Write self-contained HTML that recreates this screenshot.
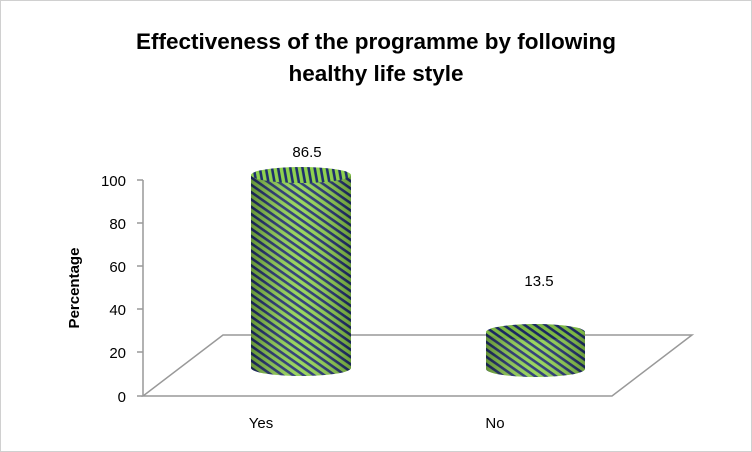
<!DOCTYPE html>
<html><head><style>body{margin:0;background:#fff}svg{display:block}</style></head><body>
<svg width="752" height="452" xmlns="http://www.w3.org/2000/svg" font-family="Liberation Sans, sans-serif">
<defs>
<pattern id="st" width="6" height="6" patternUnits="userSpaceOnUse" patternTransform="rotate(35)">
<rect width="6" height="6" fill="#8fd14f"/><rect width="6" height="2.6" fill="#1f2f6e"/>
</pattern>
<pattern id="st2" width="6" height="6" patternUnits="userSpaceOnUse" patternTransform="rotate(80)">
<rect width="6" height="6" fill="#8fd14f"/><rect width="6" height="2.6" fill="#1f2f6e"/>
</pattern>
<linearGradient id="sh" x1="0" x2="1" y1="0" y2="0">
<stop offset="0" stop-color="#000" stop-opacity="0.3"/>
<stop offset="0.5" stop-color="#fff" stop-opacity="0.1"/>
<stop offset="1" stop-color="#000" stop-opacity="0.25"/>
</linearGradient>
</defs>
<rect x="0.5" y="0.5" width="751" height="451" fill="#fff" stroke="#d0d0d0"/>
<text x="376" y="49" font-size="22.5" font-weight="bold" text-anchor="middle">Effectiveness of the programme by following</text>
<text x="376" y="81" font-size="22.5" font-weight="bold" text-anchor="middle">healthy life style</text>
<g stroke="#999" stroke-width="1.5" fill="none">
<path d="M223 335 H692 L612 396 H143 Z"/>
<path d="M143 180 V396"/>
<path d="M137 180H143M137 223H143M137 266H143M137 309H143M137 352H143M137 396H143"/>
</g>
<g font-size="15" text-anchor="end">
<text x="126" y="186">100</text><text x="126" y="229">80</text><text x="126" y="272">60</text>
<text x="126" y="315">40</text><text x="126" y="358">20</text><text x="126" y="402">0</text>
</g>
<text transform="translate(79,288) rotate(-90)" font-size="15" font-weight="bold" text-anchor="middle">Percentage</text>
<text x="261" y="428" font-size="15" text-anchor="middle">Yes</text>
<text x="495" y="428" font-size="15" text-anchor="middle">No</text>
<text x="307" y="157" font-size="15" text-anchor="middle">86.5</text>
<text x="539" y="286" font-size="15" text-anchor="middle">13.5</text>
<path d="M251 175 V368 A50 8 0 0 0 351 368 V175 Z" fill="url(#st)"/>
<path d="M251 175 V368 A50 8 0 0 0 351 368 V175 Z" fill="url(#sh)"/>
<ellipse cx="301" cy="175" rx="50" ry="8" fill="url(#st2)"/>
<path d="M486 332 V369 A49.5 8 0 0 0 585 369 V332 Z" fill="url(#st)"/>
<path d="M486 332 V369 A49.5 8 0 0 0 585 369 V332 Z" fill="url(#sh)"/>
<ellipse cx="535.5" cy="332" rx="49.5" ry="8" fill="url(#st)"/>
<ellipse cx="535.5" cy="332" rx="49.5" ry="8" fill="#000" fill-opacity="0.12"/>
</svg>
</body></html>
